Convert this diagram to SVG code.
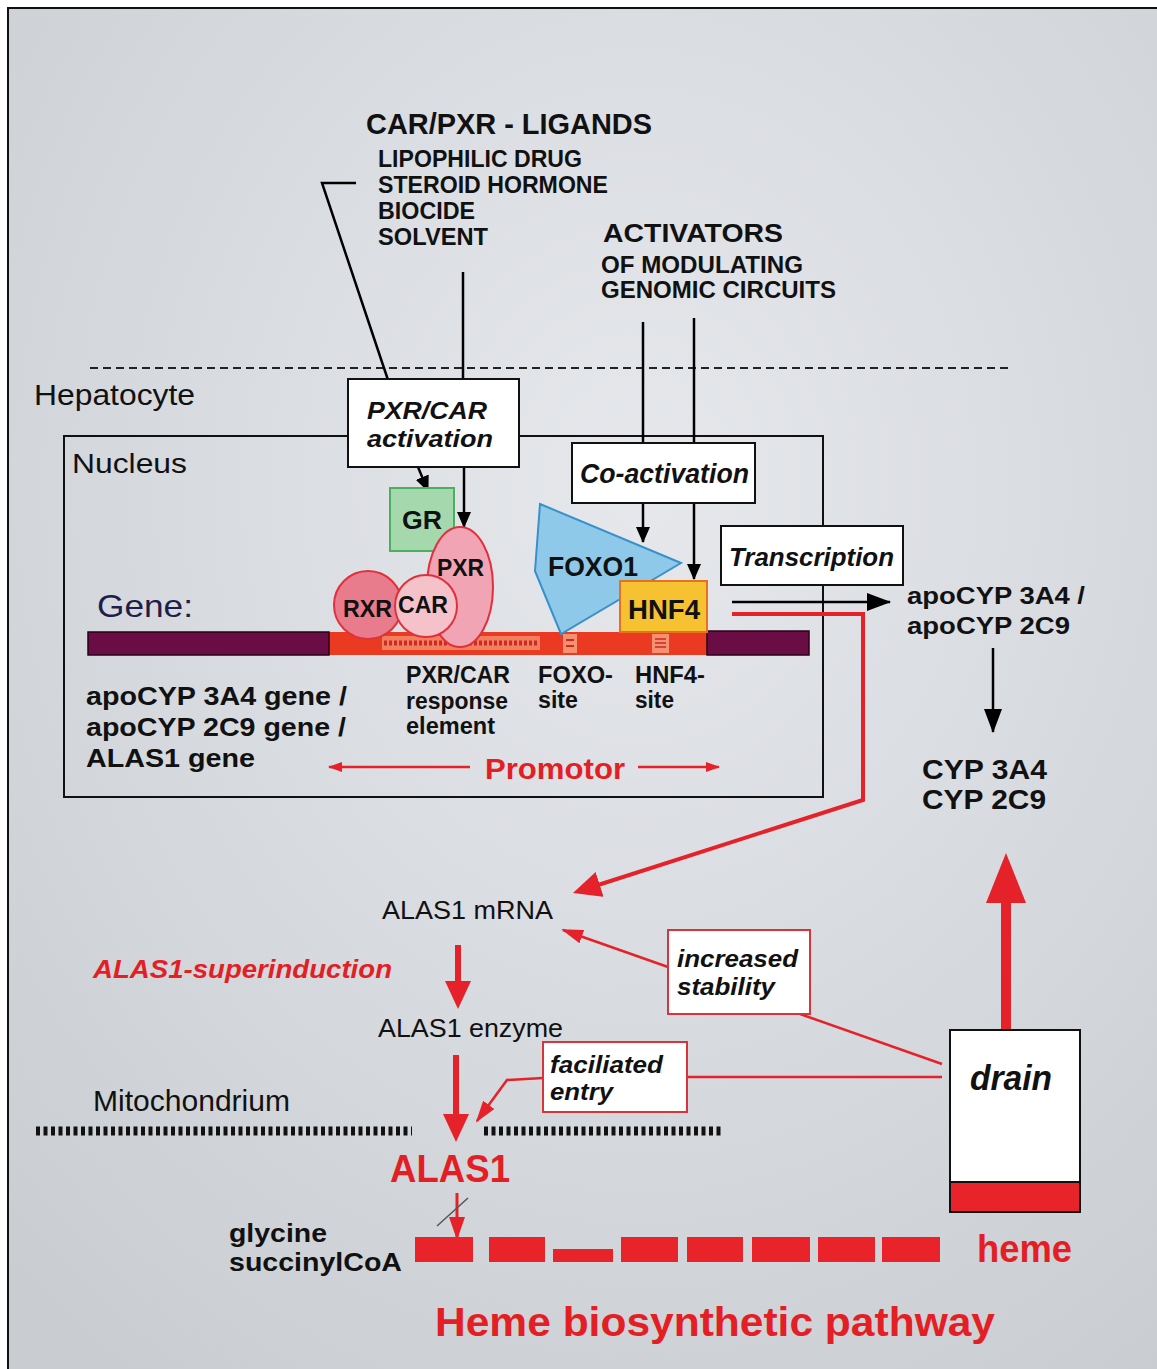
<svg xmlns="http://www.w3.org/2000/svg" width="1157" height="1369" viewBox="0 0 1157 1369">
<defs>
<radialGradient id="bg" cx="0.55" cy="0.35" r="0.8">
<stop offset="0" stop-color="#e6e8ec"/>
<stop offset="1" stop-color="#c9cdd2"/>
</radialGradient>
<marker id="ab" markerUnits="userSpaceOnUse" markerWidth="16" markerHeight="14" refX="15" refY="7" orient="auto"><path d="M0,0 L16,7 L0,14 z" fill="#000"/></marker>
<marker id="abL" markerUnits="userSpaceOnUse" markerWidth="24" markerHeight="18" refX="23" refY="9" orient="auto"><path d="M0,0 L24,9 L0,18 z" fill="#000"/></marker>
<marker id="arS" markerUnits="userSpaceOnUse" markerWidth="14" markerHeight="10" refX="13" refY="5" orient="auto"><path d="M0,0 L14,5 L0,10 z" fill="#e52229"/></marker>
<marker id="arM" markerUnits="userSpaceOnUse" markerWidth="22" markerHeight="14" refX="20" refY="7" orient="auto"><path d="M0,0 L22,7 L0,14 z" fill="#e52229"/></marker>
<marker id="arN" markerUnits="userSpaceOnUse" markerWidth="23" markerHeight="16" refX="21" refY="8" orient="auto"><path d="M0,0 L23,8 L0,16 z" fill="#e52229"/></marker>
<marker id="arL" markerUnits="userSpaceOnUse" markerWidth="28" markerHeight="26" refX="18" refY="13" orient="auto"><path d="M0,0 L28,13 L0,26 z" fill="#e52229"/></marker>
<marker id="arXL" markerUnits="userSpaceOnUse" markerWidth="50" markerHeight="40" refX="38" refY="20" orient="auto"><path d="M0,0 L50,20 L0,40 z" fill="#e52229"/></marker>
</defs>
<style>
text{font-family:"Liberation Sans",Arial,sans-serif;fill:#111}
.b{font-weight:700}
.i{font-style:italic}
.r{fill:#e31e24}
.ln{stroke:#000;stroke-width:2.5;fill:none}
.rl{stroke:#e52229;fill:none;stroke-width:2.5}
.w4{stroke-width:4}
.w6{stroke-width:6}
.w10{stroke-width:10}
.box{fill:#fff;stroke:#111;stroke-width:2}
.rbox{fill:#fff;stroke:#d8343a;stroke-width:2}
.blk{fill:#e8242a}
</style>
<rect x="0" y="0" width="1157" height="1369" fill="#fff"/>
<rect x="8" y="8" width="1149" height="1361" fill="url(#bg)"/>
<path d="M8,1369 V8 H1157" fill="none" stroke="#111" stroke-width="2"/>

<g id="hepatocyte">
<path d="M90,368 H1008" stroke="#222" stroke-width="2" stroke-dasharray="8 5" fill="none"/>
<text x="34" y="405" font-size="29" textLength="161" lengthAdjust="spacingAndGlyphs">Hepatocyte</text>
</g>

<g id="nucleus">
<rect x="64" y="436" width="759" height="361" fill="none" stroke="#111" stroke-width="2"/>
<text x="72" y="473" font-size="28" textLength="115" lengthAdjust="spacingAndGlyphs">Nucleus</text>
</g>

<g id="mitochondrium">
<path d="M36,1131 H412 M484,1131 H721" stroke="#111" stroke-width="9" stroke-dasharray="4 3.5" fill="none"/>
<text x="93" y="1111" font-size="29" textLength="197" lengthAdjust="spacingAndGlyphs">Mitochondrium</text>
</g>

<g id="connectors">
<path class="ln" d="M356,183 H322 L388,380"/>
<path class="ln" d="M463,272 V379"/>
<path class="ln" d="M464,467 V527" marker-end="url(#ab)"/>
<path class="ln" d="M418,467 L428,491" marker-end="url(#ab)"/>
<path class="ln" d="M643,322 V443"/>
<path class="ln" d="M694,318 V443"/>
<path class="ln" d="M643,503 V542" marker-end="url(#ab)"/>
<path class="ln" d="M694,503 V579" marker-end="url(#ab)"/>
<path class="ln" d="M732,602 H890" marker-end="url(#abL)"/>
<path class="ln" d="M993,648 V732" marker-end="url(#abL)"/>
<path class="rl w4" d="M732,614 H863 V800 L582.5,890" marker-end="url(#arL)"/>
<path class="rl w6" d="M458,945 V999" marker-end="url(#arL)"/>
<path class="rl w6" d="M456,1055 V1132" marker-end="url(#arL)"/>
<path class="rl" d="M668,967 L563,930" marker-end="url(#arM)"/>
<path class="rl" d="M543,1078 L507,1080 L477,1121" marker-end="url(#arM)"/>
<path class="rl" d="M800,1014 L942,1064"/>
<path class="rl" d="M687,1077 H942"/>
<path class="rl w10" d="M1006,1030 V865" marker-end="url(#arXL)"/>
<path class="rl" d="M470,767 H329" marker-end="url(#arS)"/>
<path class="rl" d="M638,767 H719" marker-end="url(#arS)"/>
<path class="rl" d="M457,1193 V1238" style="stroke-width:3" marker-end="url(#arN)"/>
<path d="M437,1226 L468,1198" stroke="#555" stroke-width="1.5"/>
</g>

<g id="ligands">
<text x="366" y="134" font-size="30" class="b" textLength="286" lengthAdjust="spacingAndGlyphs">CAR/PXR - LIGANDS</text>
<text x="378" y="167" font-size="23" class="b" textLength="204" lengthAdjust="spacingAndGlyphs">LIPOPHILIC DRUG</text>
<text x="378" y="193" font-size="23" class="b" textLength="230" lengthAdjust="spacingAndGlyphs">STEROID HORMONE</text>
<text x="378" y="219" font-size="23" class="b" textLength="97" lengthAdjust="spacingAndGlyphs">BIOCIDE</text>
<text x="378" y="245" font-size="23" class="b" textLength="110" lengthAdjust="spacingAndGlyphs">SOLVENT</text>
</g>

<g id="activators">
<text x="603" y="242" font-size="25" class="b" textLength="180" lengthAdjust="spacingAndGlyphs">ACTIVATORS</text>
<text x="601" y="273" font-size="23" class="b" textLength="202" lengthAdjust="spacingAndGlyphs">OF MODULATING</text>
<text x="601" y="298" font-size="23" class="b" textLength="235" lengthAdjust="spacingAndGlyphs">GENOMIC CIRCUITS</text>
</g>

<g id="pxrcar-activation">
<rect class="box" x="348" y="379" width="171" height="88"/>
<text x="367" y="419" font-size="24" class="b i" textLength="120" lengthAdjust="spacingAndGlyphs">PXR/CAR</text>
<text x="367" y="447" font-size="24" class="b i" textLength="126" lengthAdjust="spacingAndGlyphs">activation</text>
</g>

<g id="co-activation">
<rect class="box" x="572" y="443" width="183" height="60"/>
<text x="580" y="483" font-size="27" class="b i" textLength="169" lengthAdjust="spacingAndGlyphs">Co-activation</text>
</g>

<g id="transcription">
<rect class="box" x="721" y="526" width="182" height="59"/>
<text x="729" y="566" font-size="26" class="b i" textLength="165" lengthAdjust="spacingAndGlyphs">Transcription</text>
</g>

<g id="gene">
<text x="97" y="617" font-size="32" textLength="96" lengthAdjust="spacingAndGlyphs" style="fill:#1e1e4a">Gene:</text>
<rect x="329" y="632" width="378" height="23" fill="#ea3a22"/>
<rect x="382" y="636" width="158" height="14" fill="#f2805e"/>
<path d="M384,643 H538" stroke="#cc2a22" stroke-width="5" stroke-dasharray="3 2" fill="none"/>
<rect x="563" y="634" width="14" height="19" fill="#f59070"/>
<path d="M566,640 H574 M566,646 H574" stroke="#cc2a22" stroke-width="2"/>
<rect x="652" y="634" width="17" height="19" fill="#f59070"/>
<path d="M655,639 H666 M655,643 H666 M655,647 H666" stroke="#cc2a22" stroke-width="1.5"/>
<rect x="88" y="632" width="241" height="23" fill="#6b0d45" stroke="#2a0018" stroke-width="1.5"/>
<rect x="707" y="631" width="102" height="24" fill="#6b0d45" stroke="#2a0018" stroke-width="1.5"/>
<text x="86" y="705" font-size="25" class="b" textLength="261" lengthAdjust="spacingAndGlyphs">apoCYP 3A4 gene /</text>
<text x="86" y="736" font-size="25" class="b" textLength="260" lengthAdjust="spacingAndGlyphs">apoCYP 2C9 gene /</text>
<text x="86" y="767" font-size="25" class="b" textLength="169" lengthAdjust="spacingAndGlyphs">ALAS1 gene</text>
</g>

<g id="gr">
<rect x="390" y="488" width="64" height="63" fill="#a6d8ae" stroke="#4caf60" stroke-width="2"/>
<text x="402" y="529" font-size="26" class="b" textLength="40" lengthAdjust="spacingAndGlyphs">GR</text>
</g>
<g id="rxr">
<circle cx="368" cy="605" r="34" fill="#e97c8c" stroke="#e0303c" stroke-width="2"/>
<text x="343" y="617" font-size="23" class="b" textLength="49" lengthAdjust="spacingAndGlyphs">RXR</text>
</g>
<g id="pxr">
<ellipse cx="460" cy="587" rx="33" ry="60" fill="#f0a4b4" stroke="#e0303c" stroke-width="2"/>
<text x="437" y="576" font-size="23" class="b" textLength="47" lengthAdjust="spacingAndGlyphs">PXR</text>
</g>
<g id="car">
<circle cx="426" cy="606" r="31" fill="#f5c2ca" stroke="#e0303c" stroke-width="2"/>
<text x="398" y="613" font-size="23" class="b" textLength="50" lengthAdjust="spacingAndGlyphs">CAR</text>
</g>
<g id="foxo1">
<polygon points="540,504 681,563 561,634 535,571" fill="#8ec9ea" stroke="#3a90c8" stroke-width="2"/>
<text x="548" y="576" font-size="28" class="b" textLength="90" lengthAdjust="spacingAndGlyphs">FOXO1</text>
</g>
<g id="hnf4">
<rect x="620" y="581" width="87" height="51" fill="#f6c232" stroke="#e87020" stroke-width="2"/>
<text x="628" y="619" font-size="27" class="b" textLength="72" lengthAdjust="spacingAndGlyphs">HNF4</text>
</g>

<g id="site-labels">
<text x="406" y="683" font-size="23" class="b" textLength="104" lengthAdjust="spacingAndGlyphs">PXR/CAR</text>
<text x="406" y="709" font-size="23" class="b" textLength="102" lengthAdjust="spacingAndGlyphs">response</text>
<text x="406" y="734" font-size="23" class="b" textLength="89" lengthAdjust="spacingAndGlyphs">element</text>
<text x="538" y="683" font-size="23" class="b" textLength="75" lengthAdjust="spacingAndGlyphs">FOXO-</text>
<text x="538" y="708" font-size="23" class="b" textLength="40" lengthAdjust="spacingAndGlyphs">site</text>
<text x="635" y="683" font-size="23" class="b" textLength="70" lengthAdjust="spacingAndGlyphs">HNF4-</text>
<text x="635" y="708" font-size="23" class="b" textLength="39" lengthAdjust="spacingAndGlyphs">site</text>
</g>

<g id="promotor">
<text x="485" y="779" font-size="29" class="b r" textLength="140" lengthAdjust="spacingAndGlyphs">Promotor</text>
</g>

<g id="apocyp">
<text x="907" y="604" font-size="24" class="b" textLength="178" lengthAdjust="spacingAndGlyphs">apoCYP 3A4 /</text>
<text x="907" y="634" font-size="24" class="b" textLength="163" lengthAdjust="spacingAndGlyphs">apoCYP 2C9</text>
</g>

<g id="cyp">
<text x="922" y="779" font-size="28" class="b" textLength="125" lengthAdjust="spacingAndGlyphs">CYP 3A4</text>
<text x="922" y="809" font-size="28" class="b" textLength="124" lengthAdjust="spacingAndGlyphs">CYP 2C9</text>
</g>

<g id="alas1-mrna">
<text x="382" y="919" font-size="26" textLength="171" lengthAdjust="spacingAndGlyphs">ALAS1 mRNA</text>
</g>
<g id="superinduction">
<text x="93" y="978" font-size="26" class="b i r" textLength="299" lengthAdjust="spacingAndGlyphs">ALAS1-superinduction</text>
</g>
<g id="alas1-enzyme">
<text x="378" y="1037" font-size="26" textLength="185" lengthAdjust="spacingAndGlyphs">ALAS1 enzyme</text>
</g>

<g id="increased-stability">
<rect class="rbox" x="668" y="930" width="142" height="84"/>
<text x="677" y="967" font-size="24" class="b i" textLength="121" lengthAdjust="spacingAndGlyphs">increased</text>
<text x="677" y="995" font-size="24" class="b i" textLength="98" lengthAdjust="spacingAndGlyphs">stability</text>
</g>

<g id="faciliated-entry">
<rect class="rbox" x="543" y="1042" width="144" height="70"/>
<text x="550" y="1073" font-size="24" class="b i" textLength="113" lengthAdjust="spacingAndGlyphs">faciliated</text>
<text x="550" y="1100" font-size="24" class="b i" textLength="63" lengthAdjust="spacingAndGlyphs">entry</text>
</g>

<g id="drain">
<rect class="box" x="950" y="1030" width="130" height="182"/>
<rect x="950" y="1182" width="130" height="30" fill="#e8242a" stroke="#111" stroke-width="2"/>
<text x="970" y="1090" font-size="35" class="b i" textLength="82" lengthAdjust="spacingAndGlyphs">drain</text>
</g>

<g id="alas1">
<text x="390" y="1182" font-size="38" class="b r" textLength="120" lengthAdjust="spacingAndGlyphs">ALAS1</text>
</g>

<g id="substrates">
<text x="229" y="1242" font-size="25" class="b" textLength="98" lengthAdjust="spacingAndGlyphs">glycine</text>
<text x="229" y="1271" font-size="25" class="b" textLength="173" lengthAdjust="spacingAndGlyphs">succinylCoA</text>
</g>

<g id="pathway">
<rect class="blk" x="415" y="1237" width="58" height="25"/>
<rect class="blk" x="489" y="1237" width="56" height="25"/>
<rect class="blk" x="553" y="1249" width="60" height="13"/>
<rect class="blk" x="621" y="1237" width="57" height="25"/>
<rect class="blk" x="687" y="1237" width="56" height="25"/>
<rect class="blk" x="752" y="1237" width="58" height="25"/>
<rect class="blk" x="818" y="1237" width="57" height="25"/>
<rect class="blk" x="882" y="1237" width="58" height="25"/>
</g>

<g id="heme">
<text x="977" y="1262" font-size="39" class="b r" textLength="95" lengthAdjust="spacingAndGlyphs">heme</text>
</g>

<g id="pathway-title">
<text x="435" y="1336" font-size="41" class="b r" textLength="560" lengthAdjust="spacingAndGlyphs">Heme biosynthetic pathway</text>
</g>
</svg>
